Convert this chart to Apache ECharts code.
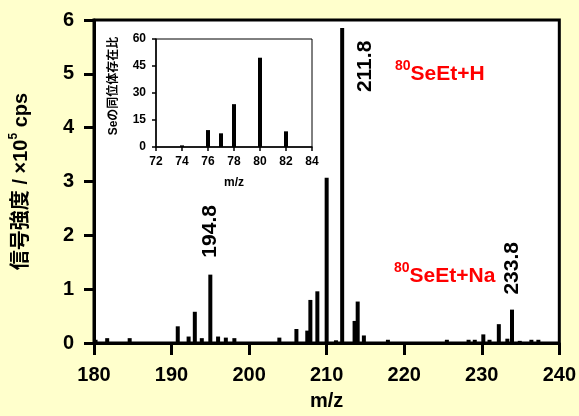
<!DOCTYPE html>
<html><head><meta charset="utf-8">
<script src="https://cdn.jsdelivr.net/npm/echarts@6/dist/echarts.min.js"></script>
<style>html,body{margin:0;padding:0;background:#FFFFCC}#c{width:579px;height:416px}</style>
</head><body><div id="c"></div>
<script>
// Main spectrum: m/z positions and signal intensity (x10^5 cps)
const mzValues  = [180.2,181.7,184.6,190.8,192.2,193.0,193.9,195.0,196.0,197.0,198.1,203.9,206.1,207.5,207.9,208.8,210.0,211.2,212.0,213.6,214.0,214.8,217.9,225.5,228.3,229.1,230.2,231.0,232.2,233.3,233.9,234.9,236.4,237.3];
const intensity = [0.06,0.09,0.09,0.31,0.12,0.58,0.09,1.27,0.12,0.10,0.09,0.10,0.26,0.23,0.80,0.96,3.07,0.05,5.85,0.41,0.77,0.14,0.06,0.06,0.06,0.06,0.16,0.06,0.35,0.08,0.62,0.04,0.06,0.06];
// Peak annotation texts (indexed by position in mzValues)
const peakIndex = [7, 18, 30];
const peakText  = ['194.8', '211.8', '233.8'];
// Inset: Se isotope abundance
const isoMass      = [74, 76, 77, 78, 80, 82];
const isoAbundance = [0.9, 9.4, 7.6, 23.8, 49.6, 8.7];
// Annotation species
const speciesH  = 'SeEt+H';
const speciesNa = 'SeEt+Na';
const isoLabel  = '80';

const FONT = '"Liberation Sans", Arial, "Noto Sans CJK JP", sans-serif';
// offsets are in the rotated label frame: [along text (up), across (right)]
const labelOffsets = [[17, 0], [-64, 23], [15, 0]];

const mainData = mzValues.map((m, i) => {
  const k = peakIndex.indexOf(i);
  const item = { value: [m, intensity[i]] };
  if (k >= 0) {
    item.label = {
      show: true, position: 'top', distance: 0, rotate: 90,
      align: 'left', verticalAlign: 'middle',
      offset: labelOffsets[k], formatter: peakText[k],
      fontSize: 21, fontWeight: 'bold', color: '#000', fontFamily: FONT
    };
  }
  return item;
});

const chart = echarts.init(document.getElementById('c'), null, { renderer: 'canvas' });
chart.setOption({
  backgroundColor: '#FFFFCC',
  animation: false,
  grid: [
    { left: 92, right: 18, top: 20, bottom: 70, show: true, backgroundColor: '#fff', borderColor: '#000', borderWidth: 3 },
    { left: 156, top: 39, width: 156, height: 108, show: true, backgroundColor: 'transparent', borderColor: '#000', borderWidth: 1, z: 10 }
  ],
  xAxis: [
    { type: 'value', gridIndex: 0, min: 180, max: 240, interval: 10,
      axisLine: { show: true, lineStyle: { color: '#000', width: 3 } },
      axisTick: { show: true, length: 12, lineStyle: { color: '#000', width: 3 } },
      splitLine: { show: false },
      axisLabel: { margin: 22, fontSize: 20, fontWeight: 'bold', color: '#000', fontFamily: FONT },
      name: 'm/z', nameLocation: 'middle', nameGap: 48,
      nameTextStyle: { fontSize: 20, fontWeight: 'bold', color: '#000', fontFamily: FONT } },
    { type: 'value', gridIndex: 1, min: 72, max: 84, interval: 2, z: 10,
      axisLine: { show: true, lineStyle: { color: '#000', width: 1.5 } },
      axisTick: { show: true, length: 4, lineStyle: { color: '#000', width: 1.5 } },
      splitLine: { show: false },
      axisLabel: { margin: 9, fontSize: 12, fontWeight: 'bold', color: '#000', fontFamily: FONT },
      name: 'm/z', nameLocation: 'middle', nameGap: 30,
      nameTextStyle: { fontSize: 12, fontWeight: 'bold', color: '#000', fontFamily: FONT } }
  ],
  yAxis: [
    { type: 'value', gridIndex: 0, min: 0, max: 6, interval: 1,
      axisLine: { show: true, lineStyle: { color: '#000', width: 3 } },
      axisTick: { show: true, length: 10, lineStyle: { color: '#000', width: 3 } },
      splitLine: { show: false },
      axisLabel: { margin: 20, fontSize: 20, fontWeight: 'bold', color: '#000', fontFamily: FONT },
      name: '{m|信号強度 / ×10}{s|5}{m| cps}', nameLocation: 'middle', nameGap: 63,
      nameTextStyle: { fontFamily: FONT, rich: {
        m: { fontSize: 20, fontWeight: 'bold', color: '#000', fontFamily: FONT, verticalAlign: 'bottom', lineHeight: 23 },
        s: { fontSize: 12, fontWeight: 'bold', color: '#000', fontFamily: FONT, verticalAlign: 'top', lineHeight: 23 } } } },
    { type: 'value', gridIndex: 1, min: 0, max: 60, interval: 15, z: 10,
      axisLine: { show: true, lineStyle: { color: '#000', width: 1.5 } },
      axisTick: { show: true, length: 4, lineStyle: { color: '#000', width: 1.5 } },
      splitLine: { show: false },
      axisLabel: { margin: 10, fontSize: 12, fontWeight: 'bold', color: '#000', fontFamily: FONT },
      name: 'Seの同位体存在比', nameLocation: 'middle', nameGap: 36,
      nameTextStyle: { fontSize: 12, fontWeight: 'bold', color: '#000', fontFamily: FONT, padding: [0, 0, 0, 14] } }
  ],
  series: [
    { type: 'bar', xAxisIndex: 0, yAxisIndex: 0, barWidth: 4, itemStyle: { color: '#000' }, data: mainData },
    { type: 'bar', xAxisIndex: 1, yAxisIndex: 1, barWidth: 4, z: 10, itemStyle: { color: '#000' },
      data: isoMass.map((m, i) => [m, isoAbundance[i]]) }
  ],
  graphic: [
    { type: 'text', left: 395, top: 59, z: 20, style: {
        text: '{s|' + isoLabel + '}{m|' + speciesH + '}', fontFamily: FONT,
        rich: { s: { fontSize: 14, fontWeight: 'bold', fill: '#f00', verticalAlign: 'top', lineHeight: 26, fontFamily: FONT },
                m: { fontSize: 21, fontWeight: 'bold', fill: '#f00', verticalAlign: 'bottom', lineHeight: 26, fontFamily: FONT } } } },
    { type: 'text', left: 394, top: 261, z: 20, style: {
        text: '{s|' + isoLabel + '}{m|' + speciesNa + '}', fontFamily: FONT,
        rich: { s: { fontSize: 14, fontWeight: 'bold', fill: '#f00', verticalAlign: 'top', lineHeight: 26, fontFamily: FONT },
                m: { fontSize: 21, fontWeight: 'bold', fill: '#f00', verticalAlign: 'bottom', lineHeight: 26, fontFamily: FONT } } } }
  ]
});
</script></body></html>
